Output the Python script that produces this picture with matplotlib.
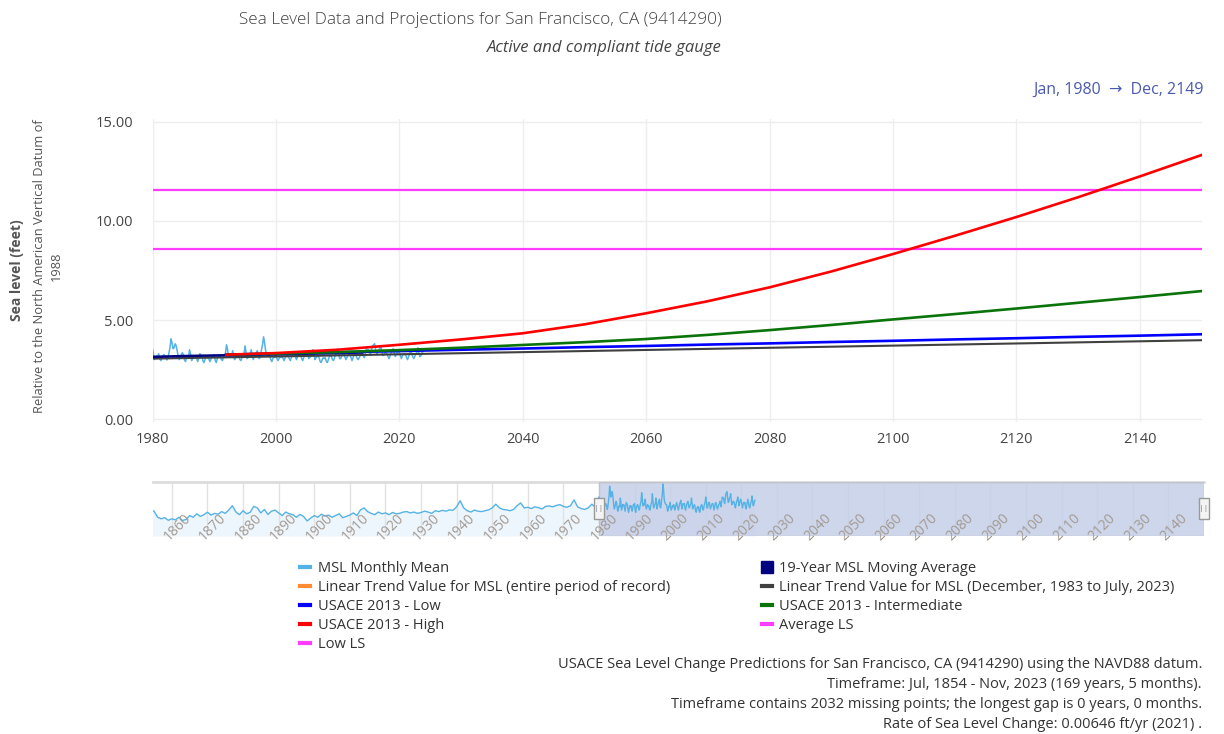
import numpy as np
import matplotlib.pyplot as plt
import matplotlib.transforms as mtransforms
from matplotlib.lines import Line2D
from matplotlib.patches import Rectangle

plt.rcParams['font.family'] = ['Open Sans', 'DejaVu Sans']

### Données (pieds, NAVD88)
# moyennes annuelles 1854-1979 (visibles seulement dans le range slider)
hist_start = 1854
hist_msl = [2.98, 2.90, 2.62, 2.55, 2.60, 2.48, 2.55, 2.50, 2.62, 2.47,
            2.52, 2.70, 2.62, 2.78, 2.66, 2.74, 2.85, 2.72, 2.80, 2.76,
            2.88, 2.80, 2.95, 3.15, 2.86, 2.74, 2.92, 2.78, 2.85, 3.12,
            3.05, 2.82, 2.98, 2.75, 2.90, 2.95, 2.82, 2.70, 2.86, 2.78,
            2.74, 2.62, 2.75, 2.66, 2.45, 2.58, 2.70, 2.62, 2.76, 2.68,
            2.72, 2.62, 2.70, 2.78, 2.60, 2.66, 2.72, 2.82, 2.70, 2.96,
            3.05, 2.88, 2.80, 2.74, 2.86, 2.78, 2.82, 2.74, 2.84, 2.78,
            2.80, 2.86, 2.88, 2.82, 2.86, 2.80, 2.84, 2.90, 2.86, 2.80,
            2.92, 2.88, 2.94, 2.90, 2.96, 2.94, 3.10, 3.38, 3.05, 2.92,
            2.86, 2.95, 2.90, 2.88, 2.92, 2.96, 3.05, 3.22, 3.06, 2.98,
            2.96, 2.92, 2.98, 3.15, 3.28, 3.05, 3.08, 3.02, 3.10, 3.06,
            3.00, 3.12, 3.14, 3.10, 3.16, 3.20, 3.12, 3.08, 3.15, 3.42,
            3.10, 3.02, 2.98, 3.05, 3.22, 3.08]

# valeurs bimestrielles 1980-2023 (jan, mar, mai, jul, sep, nov)
recent_start = 1980
recent_msl = [3.55, 3.25, 3.00, 3.10, 3.20, 3.15,   # 1980
              3.30, 3.05, 2.95, 3.05, 3.20, 3.25,
              3.20, 3.15, 2.98, 3.10, 3.35, 3.60,
              4.05, 3.85, 3.55, 3.60, 3.80, 3.70,
              3.45, 3.15, 3.00, 3.10, 3.25, 3.35,
              3.25, 3.00, 2.90, 3.05, 3.15, 3.10,   # 1985
              3.50, 3.30, 2.95, 3.05, 3.20, 3.15,
              3.20, 3.05, 2.90, 3.10, 3.30, 3.25,
              3.20, 2.95, 2.85, 3.00, 3.15, 3.10,
              3.15, 3.00, 2.90, 3.05, 3.20, 3.15,
              3.25, 2.95, 2.85, 3.05, 3.15, 3.20,   # 1990
              3.15, 3.00, 2.95, 3.10, 3.25, 3.35,
              3.75, 3.50, 3.15, 3.15, 3.25, 3.20,
              3.45, 3.10, 3.00, 3.10, 3.20, 3.15,
              3.15, 3.00, 2.95, 3.10, 3.25, 3.30,
              3.70, 3.35, 3.05, 3.10, 3.20, 3.25,   # 1995
              3.50, 3.20, 3.00, 3.15, 3.30, 3.35,
              3.45, 3.10, 3.05, 3.25, 3.50, 3.75,
              4.15, 3.85, 3.45, 3.30, 3.25, 3.20,
              3.20, 3.00, 2.90, 3.05, 3.15, 3.10,
              3.30, 3.05, 2.95, 3.05, 3.15, 3.10,   # 2000
              3.20, 3.05, 2.95, 3.10, 3.20, 3.30,
              3.15, 3.05, 2.95, 3.10, 3.25, 3.30,
              3.40, 3.15, 3.00, 3.15, 3.25, 3.20,
              3.25, 3.05, 2.95, 3.10, 3.20, 3.30,
              3.35, 3.20, 3.05, 3.10, 3.20, 3.25,   # 2005
              3.50, 3.25, 3.00, 3.10, 3.15, 3.20,
              3.10, 2.90, 2.85, 3.00, 3.10, 3.05,
              3.10, 2.90, 2.85, 3.00, 3.15, 3.20,
              3.15, 3.00, 2.95, 3.10, 3.25, 3.30,
              3.55, 3.35, 3.05, 3.05, 3.20, 3.30,   # 2010
              3.30, 3.15, 3.00, 3.10, 3.20, 3.25,
              3.25, 3.10, 2.95, 3.10, 3.25, 3.30,
              3.20, 3.05, 3.00, 3.10, 3.20, 3.25,
              3.35, 3.20, 3.10, 3.35, 3.55, 3.50,
              3.50, 3.35, 3.25, 3.50, 3.70, 3.75,   # 2015
              3.80, 3.50, 3.30, 3.35, 3.50, 3.55,
              3.70, 3.40, 3.20, 3.25, 3.35, 3.35,
              3.30, 3.15, 3.05, 3.20, 3.35, 3.40,
              3.55, 3.35, 3.15, 3.25, 3.40, 3.45,
              3.35, 3.20, 3.05, 3.20, 3.30, 3.25,   # 2020
              3.30, 3.10, 3.00, 3.15, 3.30, 3.45,
              3.30, 3.15, 3.05, 3.15, 3.30, 3.35,
              3.60, 3.35, 3.15, 3.20, 3.35, 3.40]

ma19_years = [1980, 1985, 1990, 1995, 2000, 2005, 2010, 2014]
ma19 = [3.14, 3.18, 3.21, 3.24, 3.27, 3.30, 3.33, 3.36]

trend_years = [1980, 2150]
trend_dec1983 = [3.05, 3.98]

proj_years = [1992, 2000, 2010, 2020, 2030, 2040, 2050, 2060, 2070,
              2080, 2090, 2100, 2110, 2120, 2130, 2140, 2150]
usace_low = [3.25, 3.30, 3.37, 3.43, 3.50, 3.56, 3.63, 3.69, 3.76,
             3.82, 3.89, 3.95, 4.02, 4.08, 4.15, 4.21, 4.28]
usace_int = [3.25, 3.30, 3.38, 3.48, 3.60, 3.74, 3.88, 4.04, 4.25,
             4.49, 4.75, 5.03, 5.30, 5.58, 5.87, 6.16, 6.46]
usace_high = [3.25, 3.33, 3.50, 3.75, 4.02, 4.33, 4.78, 5.34, 5.95,
              6.65, 7.45, 8.33, 9.25, 10.20, 11.20, 12.25, 13.33]

average_ls = 11.57
low_ls = 8.57

x_range = [1980, 2150]
slider_range = [1854.7, 2150]
y_ticks = [0, 5, 10, 15]

notes = ["USACE Sea Level Change Predictions for San Francisco, CA (9414290) using the NAVD88 datum.",
         "Timeframe: Jul, 1854 - Nov, 2023 (169 years, 5 months).",
         "Timeframe contains 2032 missing points; the longest gap is 0 years, 0 months.",
         "Rate of Sea Level Change: 0.00646 ft/yr (2021) ."]

# couleurs
c_msl = '#55b2e6'
c_orange = '#ff8c33'
c_low = '#0000ff'
c_int = '#0a740a'
c_high = '#ff0000'
c_ls = '#ff3cff'
c_trend = '#404040'
c_ma = '#000080'

hist_x = hist_start + np.arange(len(hist_msl))
recent_x = recent_start + np.arange(len(recent_msl)) / 6.0


###################################################################
#######################  AFFICHAGE  ###############################
###################################################################
W, H = 1224, 734
fig = plt.figure(figsize=(W / 100, H / 100), dpi=100)


def box(l, t, r, b):
    return [l / W, 1 - b / H, (r - l) / W, (b - t) / H]


ax = fig.add_axes(box(152.5, 119, 1201.5, 422))

ax.plot(recent_x, recent_msl, color=c_msl, lw=1.1, zorder=2)
ax.axhline(average_ls, color=c_ls, lw=1.6, zorder=3)
ax.axhline(low_ls, color=c_ls, lw=1.6, zorder=3)
ax.plot(trend_years, trend_dec1983, color=c_trend, lw=1.5, zorder=3)
ax.plot(ma19_years, ma19, color=c_ma, lw=1.8, zorder=3)
ax.plot(proj_years, usace_low, color=c_low, lw=1.9, zorder=4)
ax.plot(proj_years, usace_int, color=c_int, lw=1.9, zorder=4)
ax.plot(proj_years, usace_high, color=c_high, lw=1.9, zorder=5)

ax.set_xlim(x_range)
ax.set_ylim(-0.15, 15.15)
ax.set_xticks(range(1980, 2141, 20))
ax.set_yticks(y_ticks)
ax.set_yticklabels([f"{v:.2f}" for v in y_ticks])
ax.tick_params(length=0, labelsize=10.5, colors='#444444')
ax.tick_params(axis='x', pad=7)
ax.tick_params(axis='y', pad=14)
ax.grid(color='#eeeeee', lw=1)
for s in ax.spines.values():
    s.set_visible(False)

# Range slider
ax2 = fig.add_axes(box(153, 482, 1204, 536))
slider_x = np.concatenate([hist_x, recent_x])
slider_y = np.concatenate([hist_msl, recent_msl])
ax2.set_xlim(slider_range)
ax2.set_ylim(1.76, 4.24)
ax2.fill_between(slider_x, slider_y, 1.76, color='#eef6fd', lw=0, zorder=1)
ax2.plot(slider_x, slider_y, color=c_msl, lw=1.0, zorder=4)
ax2.axvspan(x_range[0], x_range[1], facecolor='#c5cfe8', edgecolor='#c0c0c0',
            alpha=0.85, lw=1, zorder=3)
slider_ticks = list(range(1860, 2150, 10))
ax2.set_xticks(slider_ticks)
ax2.set_yticks([])
ax2.tick_params(length=0, labelbottom=False)
ax2.grid(axis='x', color='#e2e2e2', lw=1, zorder=0)
for name, s in ax2.spines.items():
    s.set_visible(name == 'top')
ax2.spines['top'].set_color('#dddddd')
ax2.spines['top'].set_linewidth(2)

trans2 = mtransforms.blended_transform_factory(ax2.transData, ax2.transAxes)
for yr in slider_ticks:
    ax2.text(yr + 1.5, 0.16, str(yr), transform=trans2, rotation=45,
             ha='center', va='center', fontsize=10, color='#a39a92', zorder=6)
for xh in x_range:
    ax2.add_patch(Rectangle((xh - 1.3, 0.32), 2.6, 0.38, transform=trans2,
                            facecolor='#f4f4f4', edgecolor='#999999', lw=1,
                            clip_on=False, zorder=7))
    ax2.text(xh, 0.51, '||', transform=trans2, ha='center', va='center',
             fontsize=6, color='#888888', zorder=8)

# Titres
fig.text(722 / W, 1 - 20 / H, 'Sea Level Data and Projections for San Francisco, CA (9414290)',
         ha='right', va='center', fontsize=12.3, color='#404040', fontweight='light')
fig.text(722 / W, 1 - 48 / H, 'Active and compliant tide gauge',
         ha='right', va='center', fontsize=12, style='italic', color='#444444')
fig.text(1204 / W, 1 - 90 / H, 'Jan, 1980  \u2192  Dec, 2149', ha='right', va='center',
         fontsize=11.5, color='#4a5ab0')

# Axe y
fig.text(17 / W, 1 - 270 / H, 'Sea level (feet)', rotation=90, ha='center', va='center',
         fontsize=10, fontweight='bold', color='#555555')
fig.text(48 / W, 1 - 266 / H, 'Relative to the North American Vertical Datum of\n1988',
         rotation=90, ha='center', va='center', multialignment='center',
         fontsize=9.3, color='#555555', linespacing=1.45)

# Légende
handles = [Line2D([], [], color=c_msl, lw=3),
           Line2D([], [], color=c_orange, lw=3),
           Line2D([], [], color=c_low, lw=3),
           Line2D([], [], color=c_high, lw=3),
           Line2D([], [], color=c_ls, lw=3),
           Line2D([], [], color=c_ma, marker='s', ls='none', ms=8),
           Line2D([], [], color=c_trend, lw=3),
           Line2D([], [], color=c_int, lw=3),
           Line2D([], [], color=c_ls, lw=3)]
labels = ['MSL Monthly Mean',
          'Linear Trend Value for MSL (entire period of record)',
          'USACE 2013 - Low',
          'USACE 2013 - High',
          'Low LS',
          '19-Year MSL Moving Average',
          'Linear Trend Value for MSL (December, 1983 to July, 2023)',
          'USACE 2013 - Intermediate',
          'Average LS']
leg = fig.legend(handles, labels, ncol=2, loc='upper left',
                 bbox_to_anchor=(300 / W, 1 - 561 / H), frameon=False,
                 fontsize=10.5, handlelength=0.7, handletextpad=0.5,
                 labelspacing=0.28, columnspacing=6.3, borderpad=0,
                 borderaxespad=0)
for t in leg.get_texts():
    t.set_color('#333333')

# Notes
for i, line in enumerate(notes):
    fig.text(1202 / W, 1 - (665 + i * 20) / H, line, ha='right', va='center',
             fontsize=10.5, color='#333333')

fig.savefig('out.png', dpi=100)
plt.close()
